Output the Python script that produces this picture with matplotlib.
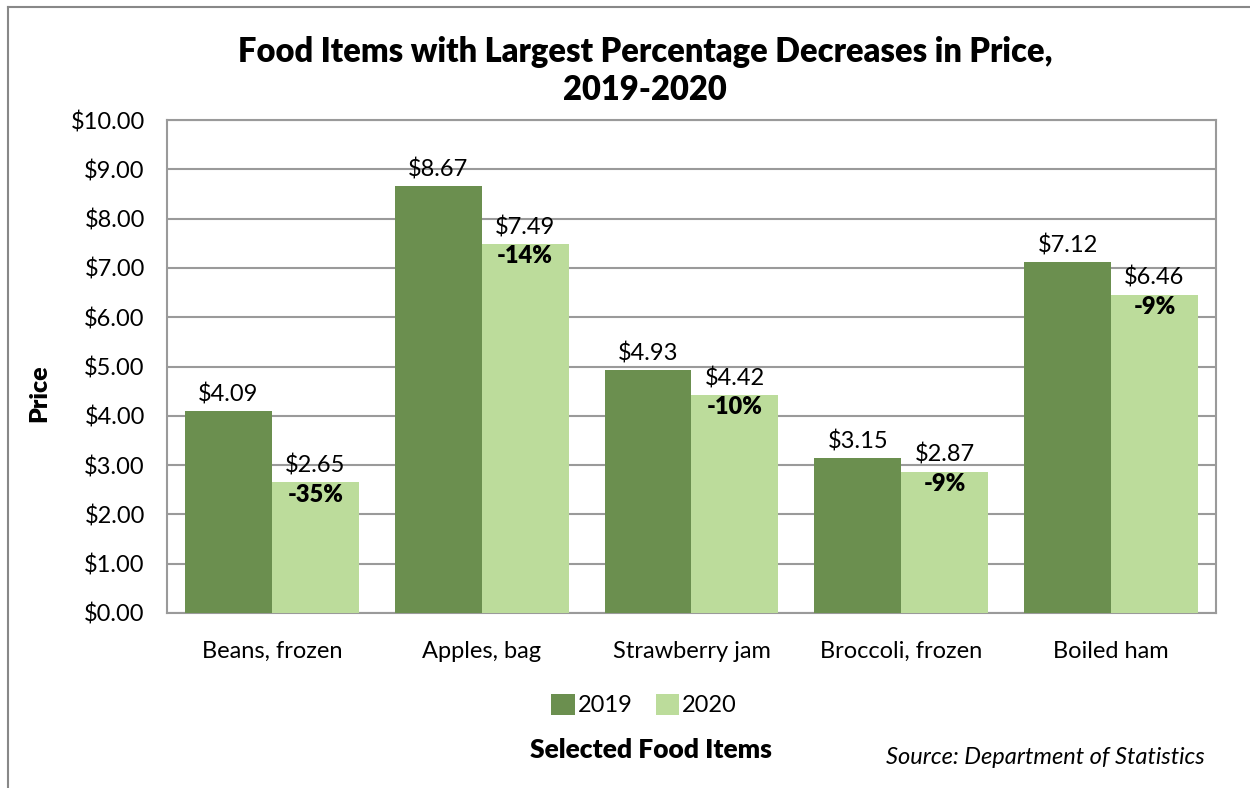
import matplotlib
matplotlib.use("Agg")
import matplotlib.pyplot as plt
from matplotlib.lines import Line2D
from matplotlib.patches import Patch
import numpy as np

categories = ["Beans, frozen", "Apples, bag", "Strawberry jam", "Broccoli, frozen", "Boiled ham"]
prices_2019 = [4.09, 8.67, 4.93, 3.15, 7.12]
prices_2020 = [2.65, 7.49, 4.42, 2.87, 6.46]
pct_change = ["-35%", "-14%", "-10%", "-9%", "-9%"]
series_names = ["2019", "2020"]
yticks = [0, 1, 2, 3, 4, 5, 6, 7, 8, 9, 10]

plt.rcParams['font.family'] = ['Lato', 'DejaVu Sans']
DARK = '#6B8F4F'
LIGHT = '#BCDC9B'
GRID = '#9A9A9A'
FS = 17

W, H = 1250, 788
fig = plt.figure(figsize=(W / 100, H / 100), dpi=100)
ax = fig.add_axes([167 / W, 1 - 613 / H, (1216 - 167) / W, (613 - 120) / H])

x = np.arange(len(categories))
bw = 0.414
ax.bar(x - bw / 2, prices_2019, width=bw, color=DARK, zorder=3, label=series_names[0])
ax.bar(x + bw / 2, prices_2020, width=bw, color=LIGHT, zorder=3, label=series_names[1])

for i in range(len(categories)):
    ax.annotate(f"${prices_2019[i]:.2f}", (x[i] - bw / 2, prices_2019[i]), xytext=(0, 4),
                textcoords='offset points', ha='center', va='bottom', fontsize=FS, color='black')
    ax.annotate(f"${prices_2020[i]:.2f}", (x[i] + bw / 2, prices_2020[i]), xytext=(0, 4),
                textcoords='offset points', ha='center', va='bottom', fontsize=FS, color='black')
    ax.annotate(pct_change[i], (x[i] + bw / 2, prices_2020[i]), xytext=(0, -1),
                textcoords='offset points', ha='center', va='top', fontsize=FS,
                fontweight='heavy', color='black', zorder=5)

ax.set_xlim(-0.5, len(categories) - 0.5)
ax.set_ylim(0, 10)
ax.set_yticks(yticks)
ax.set_yticklabels([f"${v:.2f}" for v in yticks], fontsize=FS)
ax.set_xticks(x)
ax.set_xticklabels(categories, fontsize=FS)
ax.tick_params(axis='both', length=0)
ax.tick_params(axis='y', pad=16)
ax.tick_params(axis='x', pad=20)
ax.grid(axis='y', color=GRID, linewidth=1.5, zorder=0)
for s in ax.spines.values():
    s.set_color(GRID)
    s.set_linewidth(1.5)

ax.set_ylabel("Price", fontsize=18, fontweight='heavy', labelpad=0)
ax.yaxis.set_label_coords((50 - 167) / (1216 - 167), (613 - 393) / (613 - 120))

fig.text(645 / W, 1 - 52 / H, "Food Items with Largest Percentage Decreases in Price,",
         ha='center', va='center', fontsize=23.5, fontweight='heavy')
fig.text(645 / W, 1 - 90 / H, "2019-2020", ha='center', va='center', fontsize=23.5, fontweight='heavy')

handles = [Patch(facecolor=DARK), Patch(facecolor=LIGHT)]
fig.legend(handles, series_names, loc='center', bbox_to_anchor=(644 / W, 1 - 705 / H),
           ncol=2, frameon=False, fontsize=FS, handlelength=1.0, handleheight=1.0,
           handletextpad=0.1, columnspacing=1.0)

fig.text(651 / W, 1 - 750 / H, "Selected Food Items", ha='center', va='center',
         fontsize=19, fontweight='heavy')
fig.text(1205 / W, 1 - 757 / H, "Source: Department of Statistics", ha='right', va='center',
         fontsize=FS, fontstyle='italic')

# outer chart frame
fig.add_artist(Line2D([8 / W, 8 / W], [0, 1 - 7 / H], color='#888888', linewidth=1.5,
                      transform=fig.transFigure))
fig.add_artist(Line2D([8 / W, 1], [1 - 7 / H, 1 - 7 / H], color='#888888', linewidth=1.5,
                      transform=fig.transFigure))

fig.savefig("out.png", dpi=100)
